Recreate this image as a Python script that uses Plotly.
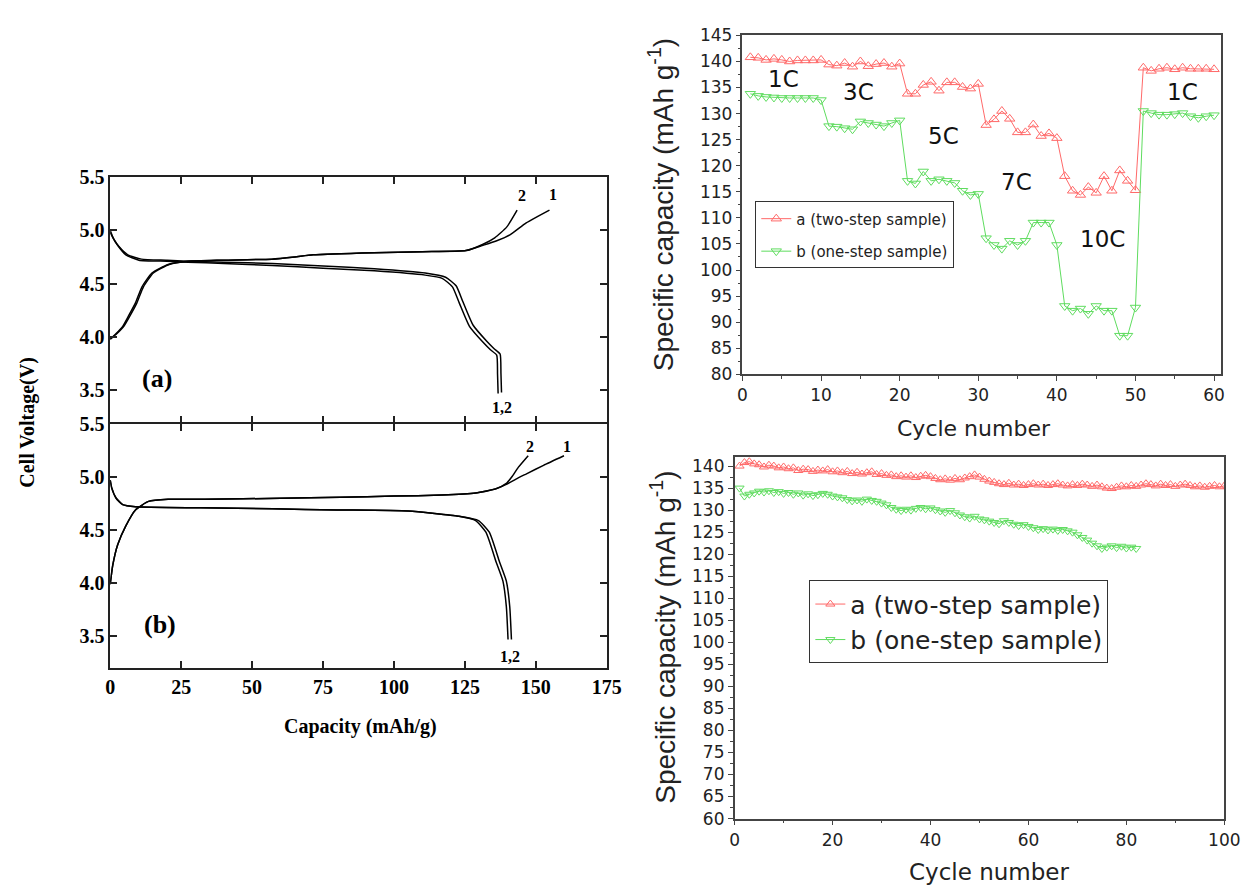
import plotly.graph_objects as go

# ---------------- DATA ----------------
# Panel (a): charge/discharge curves, capacity (mAh/g) vs voltage (V)
a_charge1_x = [0, 2, 4.4, 6.5, 8.9, 11.2, 14.7, 20.4, 27.3, 40, 57, 65, 71.5, 93, 110, 125.4, 131.4, 136, 141, 146.6, 154.8]
a_charge1_v = [3.98, 4.03, 4.10, 4.20, 4.32, 4.47, 4.60, 4.68, 4.71, 4.72, 4.73, 4.75, 4.77, 4.79, 4.80, 4.81, 4.86, 4.90, 4.96, 5.07, 5.19]
a_charge2_x = [0, 2.3, 4.8, 7.0, 9.4, 11.7, 15.2, 20.8, 27.5, 40, 57, 65, 71.5, 93, 110, 125.4, 131.4, 135.5, 139.7, 143.4]
a_charge2_v = [3.98, 4.03, 4.10, 4.20, 4.32, 4.47, 4.60, 4.68, 4.71, 4.72, 4.73, 4.75, 4.77, 4.79, 4.80, 4.81, 4.87, 4.93, 5.03, 5.19]
a_dis1_x = [0, 1, 2.6, 5.5, 10.1, 20, 27.3, 40, 57.1, 75, 93.1, 111, 117, 120.6, 123, 126.6, 131.4, 134, 136.2, 136.5, 136.7]
a_dis1_v = [5.00, 4.93, 4.86, 4.77, 4.72, 4.71, 4.70, 4.69, 4.67, 4.645, 4.62, 4.58, 4.55, 4.47, 4.32, 4.10, 3.95, 3.88, 3.83, 3.65, 3.47]
a_dis2_x = [0, 1.2, 3.0, 6.2, 11, 20, 27.3, 40, 57.1, 75, 93.1, 111, 118.2, 121.9, 124.3, 127.9, 132.7, 135.3, 137.4, 137.7, 137.9]
a_dis2_v = [4.98, 4.92, 4.85, 4.77, 4.73, 4.72, 4.71, 4.70, 4.69, 4.665, 4.64, 4.60, 4.56, 4.48, 4.33, 4.11, 3.96, 3.89, 3.84, 3.66, 3.48]

# Panel (b)
b_charge1_x = [0, 0.9, 2.6, 5.5, 8.9, 13.5, 20.4, 33.4, 60, 81.1, 100, 116.9, 128.8, 136, 139.6, 143, 146.7, 152.7, 159.9]
b_charge1_v = [3.99, 4.17, 4.36, 4.54, 4.69, 4.77, 4.79, 4.79, 4.80, 4.81, 4.82, 4.83, 4.85, 4.89, 4.93, 4.98, 5.03, 5.11, 5.20]
b_charge2_x = [0, 0.9, 2.6, 5.5, 8.9, 13.5, 20.4, 33.4, 60, 81.1, 100, 116.9, 128.8, 136, 139.6, 141.5, 143.8, 147.3]
b_charge2_v = [3.99, 4.17, 4.36, 4.54, 4.69, 4.77, 4.79, 4.79, 4.80, 4.81, 4.82, 4.83, 4.85, 4.89, 4.94, 5.00, 5.09, 5.20]
b_dis1_x = [0, 0.5, 2.1, 4.4, 8.9, 31.9, 57.3, 80, 105, 122.9, 128.8, 132.4, 136, 138.4, 139.6, 140.2]
b_dis1_v = [4.97, 4.90, 4.80, 4.74, 4.72, 4.71, 4.70, 4.69, 4.68, 4.63, 4.59, 4.48, 4.20, 4.02, 3.78, 3.47]
b_dis2_x = [0, 0.5, 2.1, 4.4, 8.9, 31.9, 57.3, 80, 105, 122.9, 129.8, 133.6, 137.2, 139.6, 140.8, 141.4]
b_dis2_v = [4.97, 4.90, 4.80, 4.74, 4.72, 4.71, 4.70, 4.69, 4.68, 4.63, 4.59, 4.48, 4.20, 4.02, 3.78, 3.47]

# Rate capability (top right)
rate_cycles = list(range(1, 61))
rate_a = [140.8, 140.7, 140.3, 140.5, 140.3, 140.0, 140.2, 140.2, 140.2, 140.3,
          139.4, 139.2, 139.7, 139.0, 140.0, 139.1, 139.5, 139.7, 139.0, 139.6,
          133.8, 133.8, 135.5, 136.1, 134.4, 136.0, 136.0, 135.1, 134.8, 135.7,
          127.8, 128.9, 130.5, 129.0, 126.4, 126.4, 127.9, 125.7, 126.2, 125.3,
          118.0, 115.2, 114.4, 115.9, 114.8, 118.0, 115.2, 119.1, 117.1, 115.3,
          138.8, 138.2, 138.6, 138.8, 138.5, 138.8, 138.6, 138.6, 138.6, 138.5]
rate_b = [133.8, 133.4, 133.2, 133.1, 133.0, 133.0, 133.0, 133.0, 133.0, 132.6,
          127.6, 127.5, 127.2, 127.0, 128.5, 128.2, 127.9, 127.6, 128.2, 128.7,
          117.1, 116.6, 118.9, 117.1, 117.4, 117.1, 116.7, 115.2, 114.4, 114.6,
          106.1, 104.8, 104.1, 105.6, 104.8, 105.6, 109.1, 109.1, 109.1, 104.8,
          93.1, 92.2, 92.6, 91.6, 93.1, 92.2, 92.2, 87.4, 87.4, 92.8,
          130.5, 130.1, 129.8, 129.8, 129.9, 130.1, 129.5, 129.2, 129.5, 129.7]
rate_labels = ["1C", "3C", "5C", "7C", "10C", "1C"]
rate_label_x = [5.2, 14.7, 25.6, 34.8, 45.8, 56.0]
rate_label_y = [136.6, 134.1, 125.7, 116.9, 106.0, 134.1]

# Cycling (bottom right)
cyc_a_x = list(range(1, 101))
cyc_a = [140.0, 140.8, 141.0, 140.5, 140.3, 139.8, 140.2, 140.0, 139.6, 139.8,
         139.4, 139.6, 139.0, 139.3, 139.2, 138.8, 139.1, 138.9, 139.2, 138.7,
         138.9, 138.5, 138.8, 138.3, 138.6, 138.2, 138.5, 138.7, 138.1, 138.3,
         137.9, 138.0, 137.6, 137.8, 137.5, 137.8, 137.4, 137.7, 137.9, 137.6,
         137.2, 136.9, 137.1, 136.8, 137.2, 136.9, 137.3, 137.6, 138.0, 137.5,
         137.0, 136.6, 136.3, 136.0, 135.8, 136.1, 135.7, 135.9, 135.6, 135.8,
         136.0, 135.7, 135.9, 135.6, 135.8, 136.0, 135.7, 135.5, 135.8, 135.6,
         135.9, 135.7, 135.4, 135.7, 135.3, 135.0, 134.9, 135.2, 135.5, 135.3,
         135.6, 135.4, 135.7, 136.0, 135.8, 135.5, 135.9, 135.6, 135.8, 135.4,
         135.7, 135.9, 135.6, 135.3, 135.5, 135.2, 135.4, 135.6, 135.3, 135.5]
cyc_b_x = list(range(1, 83))
cyc_b = [135.0, 133.2, 133.6, 133.9, 134.3, 134.1, 134.4, 134.0, 134.2, 133.8,
         134.0, 133.6, 133.9, 133.4, 133.7, 133.3, 133.5, 133.8, 133.6, 133.2,
         133.0, 132.8, 132.4, 132.1, 132.3, 132.0, 132.5, 132.2, 132.0, 131.6,
         131.2, 130.6, 130.2, 129.9, 130.2, 130.0, 130.4, 130.6, 130.3, 130.5,
         130.1, 129.8, 129.5, 129.9, 129.4, 128.9, 128.5, 128.2, 128.6, 128.0,
         127.8, 127.5, 127.2, 126.9, 127.6, 127.2, 126.8, 126.5, 126.7, 126.3,
         126.0, 125.6, 125.8, 125.5, 125.7, 125.4, 125.6, 125.3, 125.0, 124.4,
         123.8, 123.2, 122.5, 121.9, 121.3, 121.6, 121.9, 121.5, 121.8, 121.4,
         121.6, 121.3]

series_names = ["a (two-step sample)", "b (one-step sample)"]

# ---------------- LAYOUT HELPERS ----------------
W, H = 1259, 894
def fx(px): return px / W
def fy(py): return 1 - py / H

RED = "rgb(255,105,105)"
GREEN = "rgb(95,220,95)"
SERIF = "Liberation Serif"
SANS = "Liberation Sans"
WIDE = "DejaVu Sans"

fig = go.Figure()

blk = dict(color="black", width=1.5, shape="spline", smoothing=0.5)
for xs, vs in [(a_charge1_x, a_charge1_v), (a_charge2_x, a_charge2_v),
               (a_dis1_x, a_dis1_v), (a_dis2_x, a_dis2_v)]:
    fig.add_trace(go.Scatter(x=xs, y=vs, mode="lines", line=blk, xaxis="x", yaxis="y",
                             showlegend=False, hoverinfo="skip"))
for xs, vs in [(b_charge1_x, b_charge1_v), (b_charge2_x, b_charge2_v),
               (b_dis1_x, b_dis1_v), (b_dis2_x, b_dis2_v)]:
    fig.add_trace(go.Scatter(x=xs, y=vs, mode="lines", line=blk, xaxis="x2", yaxis="y2",
                             showlegend=False, hoverinfo="skip"))

def series(x, y, name, color, sym, size, xa, ya, leg, grp):
    return go.Scatter(x=x, y=y, mode="lines+markers", name=name, legendgroup=grp,
                      line=dict(color=color, width=1),
                      marker=dict(symbol=sym, size=size, color=color, line=dict(width=1, color=color)),
                      xaxis=xa, yaxis=ya, legend=leg)

fig.add_trace(series(rate_cycles, rate_a, series_names[0], RED, "triangle-up-open", 9, "x3", "y3", "legend", "ra"))
fig.add_trace(series(rate_cycles, rate_b, series_names[1], GREEN, "triangle-down-open", 9, "x3", "y3", "legend", "rb"))
fig.add_trace(series(cyc_a_x, cyc_a, series_names[0], RED, "triangle-up-open", 8, "x4", "y4", "legend2", "ca"))
fig.add_trace(series(cyc_b_x, cyc_b, series_names[1], GREEN, "triangle-down-open", 8, "x4", "y4", "legend2", "cb"))

serif_tick = dict(family=SERIF, size=20, color="black", weight="bold")
left_common = dict(ticks="inside", ticklen=7, tickwidth=2, tickcolor="#222", showline=True,
                   linewidth=1.6, linecolor="#222", mirror="allticks", showgrid=False, zeroline=False,
                   tickfont=serif_tick)
lx = [fx(107), fx(612)]
volt_ticks = [3.5, 4.0, 4.5, 5.0, 5.5]
volt_text = ["3.5", "4.0", "4.5", "5.0", "5.5"]
cap_ticks = [0, 25, 50, 75, 100, 125, 150, 175]

sans_tick = dict(family=WIDE, size=17, color="#222")
right_common = dict(ticks="outside", ticklen=5, tickwidth=1, tickcolor="#444", showline=True,
                    linewidth=1.5, linecolor="#444", mirror=True, showgrid=False, zeroline=False,
                    tickfont=sans_tick)

fig.update_layout(
    width=W, height=H, margin=dict(l=0, r=0, t=0, b=0),
    paper_bgcolor="white", plot_bgcolor="white",
    xaxis=dict(domain=lx, anchor="y", range=[0, 175], tickvals=cap_ticks, showticklabels=False, **left_common),
    yaxis=dict(domain=[fy(421.2), fy(170)], anchor="x", range=[3.2, 5.5], tickvals=volt_ticks,
               ticktext=volt_text, **left_common),
    xaxis2=dict(domain=lx, anchor="y2", range=[0, 175], tickvals=cap_ticks, **left_common),
    yaxis2=dict(domain=[fy(673), fy(422.8)], anchor="x2", range=[3.2, 5.5], tickvals=volt_ticks,
                ticktext=volt_text, **left_common),
    xaxis3=dict(domain=[fx(750), fx(1237)], anchor="y3", range=[0, 60.93], dtick=10, tick0=0,
                minor=dict(ticks="outside", dtick=5, ticklen=3, tickcolor="#444"), **right_common),
    yaxis3=dict(domain=[fy(372), fy(25)], anchor="x3", range=[80, 145], dtick=5, tick0=80,
                minor=dict(ticks="outside", dtick=2.5, ticklen=3, tickcolor="#444"), **right_common),
    xaxis4=dict(domain=[fx(742), fx(1240)], anchor="y4", range=[0, 100], dtick=20, tick0=0,
                minor=dict(ticks="outside", dtick=10, ticklen=3, tickcolor="#444"), **right_common),
    yaxis4=dict(domain=[fy(827), fy(457)], anchor="x4", range=[60, 142], dtick=5, tick0=60,
                minor=dict(ticks="outside", dtick=2.5, ticklen=3, tickcolor="#444"), **right_common),
    legend=dict(x=fx(763), y=fy(195), xanchor="left", yanchor="top", bgcolor="white",
                bordercolor="#333", borderwidth=1, font=dict(family=WIDE, size=15, color="#222"),
                tracegroupgap=10),
    legend2=dict(x=fx(818), y=fy(583), xanchor="left", yanchor="top", bgcolor="white",
                 bordercolor="#333", borderwidth=1, font=dict(family=WIDE, size=25, color="#222"),
                 tracegroupgap=0),
)

ann = []
def txt(text, x, y, xref, yref, size, family, bold=False, angle=0, color="black"):
    ann.append(dict(text=text, x=x, y=y, xref=xref, yref=yref, showarrow=False,
                    textangle=angle, xanchor="center", yanchor="middle",
                    font=dict(family=family, size=size, color=color, weight="bold" if bold else "normal")))

# left panel titles & labels
txt("Cell Voltage(V)", fx(22), fy(421), "paper", "paper", 20, SERIF, True, -90)
txt("Capacity (mAh/g)", fx(362), fy(733), "paper", "paper", 20, SERIF, True)
txt("(a)", 16.5, 3.61, "x", "y", 26, SERIF, True)
txt("(b)", 17.5, 3.61, "x2", "y2", 26, SERIF, True)
txt("2", 145, 5.33, "x", "y", 16, SERIF, True)
txt("1", 156, 5.34, "x", "y", 16, SERIF, True)
txt("1,2", 138, 3.34, "x", "y", 16, SERIF, True)
txt("2", 148, 5.29, "x2", "y2", 16, SERIF, True)
txt("1", 161, 5.29, "x2", "y2", 16, SERIF, True)
txt("1,2", 141, 3.31, "x2", "y2", 16, SERIF, True)

# right panels titles
txt("Specific capacity (mAh g<sup>-1</sup>)", fx(668), fy(198), "paper", "paper", 28, SANS, False, -90, "#222")
txt("Cycle number", fx(985), fy(428), "paper", "paper", 22, WIDE, False, 0, "#222")
txt("Specific capacity (mAh g<sup>-1</sup>)", fx(669), fy(641), "paper", "paper", 28, SANS, False, -90, "#222")
txt("Cycle number", fx(1001), fy(882), "paper", "paper", 23, WIDE, False, 0, "#222")

for t, x, y in zip(rate_labels, rate_label_x, rate_label_y):
    txt(t, x, y, "x3", "y3", 23, WIDE, False, 0, "#111")

fig.update_layout(annotations=ann)
fig.write_html("out.html")
